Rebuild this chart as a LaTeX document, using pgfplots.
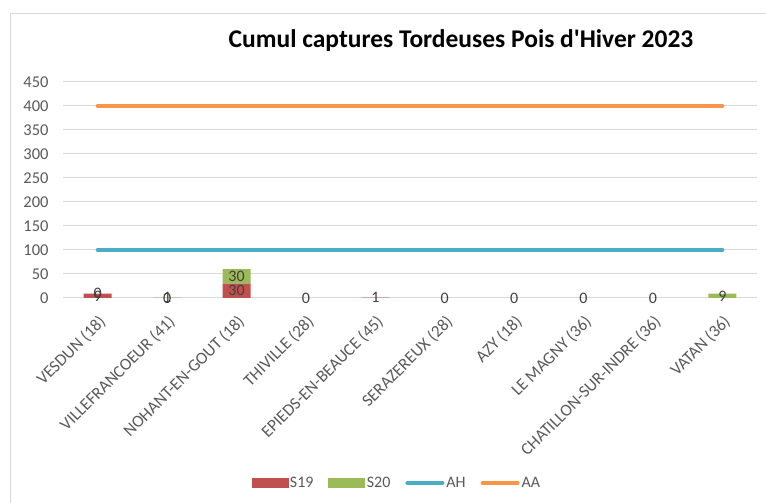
\documentclass[border=0pt]{standalone}
\usepackage{pgfplots}
\pgfplotsset{compat=1.18}
\usepackage{pgfplotstable}
\usepackage{fontspec}
\setmainfont{Carlito}
\newfontfamily\titlefont{Carlito}[Ligatures=TeXOff]
\definecolor{cS19}{HTML}{C0504D}
\definecolor{cS20}{HTML}{9BBB59}
\definecolor{cAH}{HTML}{4BACC6}
\definecolor{cAA}{HTML}{F79646}
\definecolor{gridc}{HTML}{D9D9D9}
\definecolor{tickc}{HTML}{595959}
\definecolor{labc}{HTML}{404040}

\pgfplotstableread{
x S19 S20
0 9 0
1 0 1
2 30 30
3 0 0
4 1 0
5 0 0
6 0 0
7 0 0
8 0 0
9 0 9
}\captures

\pgfplotstableread{
x y label
0 4.5 9
0 9 0
1 0 0
1 0.5 1
2 15 30
2 45 30
3 0 0
4 0.5 1
5 0 0
6 0 0
7 0 0
8 0 0
9 4.5 9
}\labels

\newcommand{\fs}{\fontsize{16bp}{19bp}\selectfont}
\newcommand{\fsx}{\fontsize{17bp}{20bp}\selectfont}
\newcommand{\fsy}{\fontsize{16.5bp}{19bp}\selectfont}

\begin{document}
\begin{tikzpicture}[x=1bp,y=1bp]
\useasboundingbox (0,0) rectangle (766,503);
\draw[gridc, line width=1bp] (10,0) -- (10,489) -- (766,489);
\node[anchor=base, font={\fontsize{25.5bp}{30bp}\titlefont\bfseries}] at (461,455) {Cumul captures Tordeuses Pois d'Hiver 2023};

\begin{axis}[
  at={(63bp,205bp)}, anchor=south west,
  scale only axis, width=694bp, height=216bp,
  xmin=-0.5, xmax=9.5, ymin=0, ymax=450,
  ytick={0,50,...,450},
  xtick={0,...,9},
  xticklabels={VESDUN (18),VILLEFRANCOEUR (41),NOHANT-EN-GOUT (18),THIVILLE (28),EPIEDS-EN-BEAUCE (45),SERAZEREUX (28),AZY (18),LE MAGNY (36),CHATILLON-SUR-INDRE (36),VATAN (36)},
  ymajorgrids, grid style={gridc, line width=1bp},
  axis line style={draw=none},
  major tick length=0pt,
  /pgf/number format/assume math mode=true,
  yticklabel style={font=\fsy, text=tickc, xshift=-11bp},
  xticklabel style={font=\fsx, text=tickc, rotate=45, anchor=north east, inner sep=1bp, yshift=-10bp, xshift=-10bp},
  ybar stacked, bar width=28bp,
]
\addplot[fill=cS19, draw=none] table[x=x, y=S19] {\captures};
\addplot[fill=cS20, draw=none] table[x=x, y=S20] {\captures};
\end{axis}

\begin{axis}[
  at={(63bp,205bp)}, anchor=south west,
  scale only axis, width=694bp, height=216bp,
  xmin=-0.5, xmax=9.5, ymin=0, ymax=450,
  hide axis,
  legend columns=4,
  legend style={at={(0.481,-0.856)}, anchor=center, draw=none, font=\fs, text=tickc,
    /tikz/every even column/.append style={column sep=13bp}},
  legend cell align=left,
]
\addlegendimage{legend image code/.code={\fill[cS19] (0bp,-4.5bp) rectangle (36bp,4.5bp);}}
\addlegendentry{S19}
\addlegendimage{legend image code/.code={\fill[cS20] (0bp,-4.5bp) rectangle (36bp,4.5bp);}}
\addlegendentry{S20}
\addplot[cAH, line width=4bp, line cap=round, mark=none,
  legend image code/.code={\draw[cAH, line width=4bp, line cap=round] (2bp,0bp) -- (37bp,0bp);}]
  coordinates {(0,100) (1,100) (2,100) (3,100) (4,100) (5,100) (6,100) (7,100) (8,100) (9,100)};
\addlegendentry{AH}
\addplot[cAA, line width=4bp, line cap=round, mark=none,
  legend image code/.code={\draw[cAA, line width=4bp, line cap=round] (2bp,0bp) -- (37bp,0bp);}]
  coordinates {(0,400) (1,400) (2,400) (3,400) (4,400) (5,400) (6,400) (7,400) (8,400) (9,400)};
\addlegendentry{AA}
\addplot[draw=none, mark=none, nodes near coords, point meta=explicit symbolic,
  every node near coord/.append style={anchor=center, font=\fs, text=labc, inner sep=0pt},
  forget plot]
  table[x=x, y=y, meta=label] {\labels};
\end{axis}
\end{tikzpicture}
\end{document}
